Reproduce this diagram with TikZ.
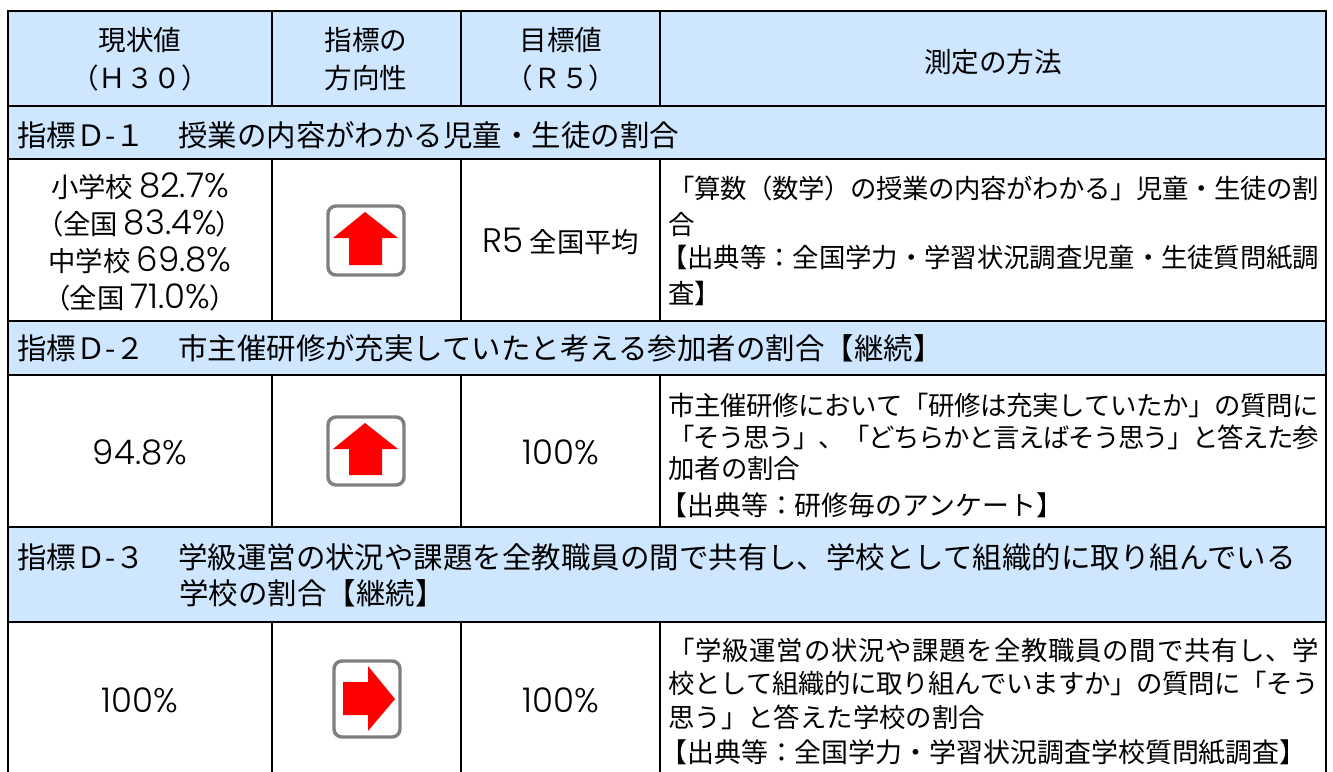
\documentclass[tikz,border=0pt]{standalone}
\usepackage{fontspec}
\setmainfont{Noto Sans CJK JP}[RawFeature=+palt]
\newfontfamily\wide{Noto Sans CJK JP}
\newfontfamily\lat{Poppins}[UprightFont=* Light]
\definecolor{hdr}{HTML}{CFE6FF}
\definecolor{boxgray}{HTML}{808080}
\makeatletter
\newcommand\just[2]{\makebox[#1][s]{\wide\@tfor\@ch:=#2\do{\@ch\hss}\unskip}}
\makeatother
\newcommand\num[1]{{\lat\fontsize{25.5pt}{27.75pt}\selectfont #1}}
\tikzset{
 band/.style={fill=hdr,draw=none},
 rule/.style={draw=black,line width=1.9pt},
 cc/.style={anchor=center,inner sep=0pt,align=center,font=\fontsize{20.5pt}{27.75pt}\selectfont},
 th/.style={anchor=center,inner sep=0pt,align=center,font=\wide\fontsize{20.7pt}{28.5pt}\selectfont},
 head/.style={anchor=west,inner sep=0pt,font=\wide\fontsize{22.1pt}{27pt}\selectfont},
 ln/.style={anchor=west,inner sep=0pt,font=\wide\fontsize{19.8pt}{20pt}\selectfont},
 lnb/.style={anchor=west,inner sep=0pt,font=\wide\fontsize{20.2pt}{20pt}\selectfont},
 ibox/.style={draw=boxgray,fill=white,line width=2.6pt,rounded corners=6pt},
 iarrow/.style={fill=red,draw=none}
}
\begin{document}
\begin{tikzpicture}[x=0.75pt,y=-0.75pt]
\useasboundingbox (0,0) rectangle (1333,771);
\fill[white] (0,0) rectangle (1333,771);
\path[band] (8,11) rectangle (1326,159);
\path[band] (8,321) rectangle (1326,375);
\path[band] (8,527) rectangle (1326,622);
\draw[rule] (8,772) -- (8,11) -- (1326,11) -- (1326,772);
\foreach \yy in {106,159,321,375,527,622} \draw[rule] (8,\yy) -- (1326,\yy);
\foreach \xx in {272,461,660} {
 \draw[rule] (\xx,11) -- (\xx,106);
 \draw[rule] (\xx,159) -- (\xx,321);
 \draw[rule] (\xx,375) -- (\xx,527);
 \draw[rule] (\xx,622) -- (\xx,772);
}
\node[th] (h1) at (140,59) {現状値\\（Ｈ３０）};
\node[th] (h2) at (366,59) {指標の\\方向性};
\node[th] (h3) at (561,59) {目標値\\（Ｒ５）};
\node[th] (h4) at (993,62) {測定の方法};
\node[head] (d1) at (17,135) {指標Ｄ-１\kern2.5pt　授業の内容がわかる児童・生徒の割合};
\node[head] (d2) at (17,348) {指標Ｄ-２\kern2.5pt　市主催研修が充実していたと考える参加者の割合【継続】};
\node[head] (d3) at (17,557) {指標Ｄ-３\kern2.5pt　学級運営の状況や課題を全教職員の間で共有し、学校として組織的に取り組んでいる};
\node[head] (d3b) at (179,593) {学校の割合【継続】};
\node[cc] (a1) at (140,242) {小学校 \num{82.7\%}\\（全国 \num{83.4\%}）\\中学校 \num{69.8\%}\\（全国 \num{71.0\%}）};
\node[cc] (a2) at (561,241) {\num{R5} 全国平均};
\node[cc] (b1) at (140,452) {\num{94.8\%}};
\node[cc] (b2) at (561,452) {\num{100\%}};
\node[cc] (c1) at (140,700) {\num{100\%}};
\node[cc] (c2) at (561,700) {\num{100\%}};
\node[ln] (m1) at (668,188) {\just{488.25pt}{「算数（数学）の授業の内容がわかる」児童・生徒の割}};
\node[ln] (m2) at (668,225) {合};
\node[ln] (m3) at (661,258) {\just{493.5pt}{【出典等：全国学力・学習状況調査児童・生徒質問紙調}};
\node[ln] (m4) at (668,293) {査】};
\node[ln] (n1) at (668,405) {\just{488.25pt}{市主催研修において「研修は充実していたか」の質問に}};
\node[ln] (n2) at (668,437) {\just{488.25pt}{「そう思う」、「どちらかと言えばそう思う」と答えた参}};
\node[ln] (n3) at (668,468) {加者の割合};
\node[lnb] (n4) at (660,505) {【出典等：研修毎のアンケート】};
\node[ln] (o1) at (668,650) {\just{488.25pt}{「学級運営の状況や課題を全教職員の間で共有し、学}};
\node[ln] (o2) at (668,683) {\just{488.25pt}{校として組織的に取り組んでいますか」の質問に「そう}};
\node[ln] (o3) at (668,717) {思う」と答えた学校の割合};
\node[lnb] (o4) at (660,752) {【出典等：全国学力・学習状況調査学校質問紙調査】};
\draw[ibox] (328,206) rectangle (404,275);
\fill[iarrow] (365,212) -- (398,238) -- (382,238) -- (382,265) -- (349,265) -- (349,238) -- (333,238) -- cycle;
\draw[ibox] (328,417) rectangle (404,485);
\fill[iarrow] (365,423) -- (398,449) -- (382,449) -- (382,475) -- (349,475) -- (349,449) -- (333,449) -- cycle;
\draw[ibox] (334,661) rectangle (400,737);
\fill[iarrow] (395,699) -- (368,666) -- (368,682) -- (343,682) -- (343,715) -- (368,715) -- (368,731) -- cycle;
\end{tikzpicture}
\end{document}
